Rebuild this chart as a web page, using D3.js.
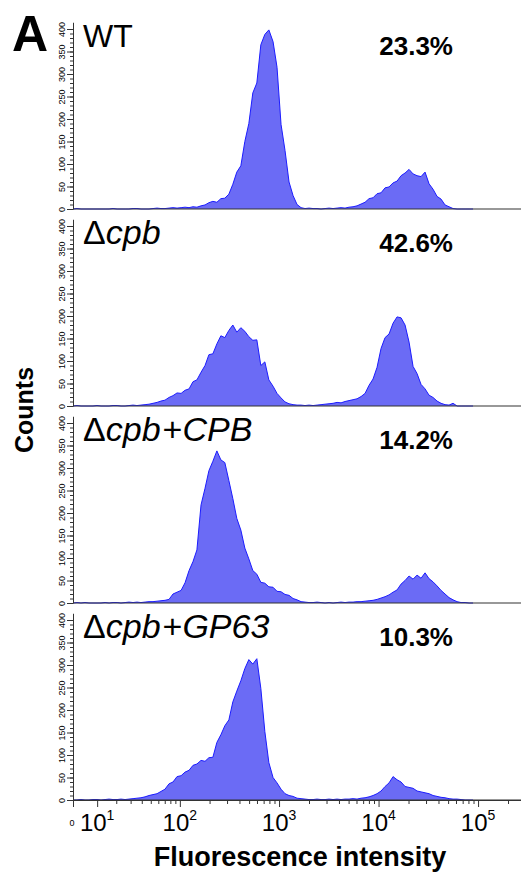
<!DOCTYPE html>
<html>
<head>
<meta charset="utf-8">
<title>Flow cytometry histograms</title>
<script src="https://d3js.org/d3.v7.min.js"></script>
<style>
  body { margin: 0; background: #fff; }
  svg text { font-family: "Liberation Sans", Arial, sans-serif; fill: #000; }
</style>
</head>
<body>
<script>
// bin centres, fluorescence intensity
var bins = [
  1.57, 3.16, 4.78, 6.44, 8.15, 9.93, 11.8, 13.8, 15.9, 18.1,
  20.5, 23.0, 25.8, 28.7, 32.0, 35.4, 39.2, 43.4, 47.9, 52.8,
  58.2, 64.0, 70.4, 77.5, 85.1, 93.6, 103, 113, 124, 136,
  149, 164, 180, 197, 216, 237, 260, 285, 313, 343,
  376, 413, 453, 497, 545, 598, 656, 720, 790, 870,
  954, 1047, 1148, 1260, 1382, 1516, 1663, 1824, 2001, 2196,
  2408, 2642, 2898, 3179, 3487, 3826, 4197, 4604, 5051, 5540,
  6078, 6668, 7315, 8024, 8802, 9656, 10593, 11620, 12747, 13982,
  15340, 16828, 18460, 20251, 22215, 24370, 26734, 29327, 32172, 35275,
  38696, 42449, 46567, 51084, 56039, 61475, 67438, 73979, 81155, 89027
];

// counts per bin
var wt = [
  1, 0, 0, 0, 0, 0, 0, 0, 0, 1,
  0, 0, 0, 0, 1, 1, 0, 0, 0, 1,
  2, 1, 1, 2, 3, 2, 3, 4, 3, 5,
  4, 7, 9, 14, 17, 15, 23, 24, 33, 55,
  82, 96, 150, 190, 258, 280, 365, 388, 398, 372,
  315, 188, 130, 60, 30, 10, 3, 1, 2, 1,
  1, 0, 1, 2, 1, 2, 3, 2, 4, 5,
  7, 11, 15, 23, 25, 34, 36, 47, 49, 58,
  62, 74, 80, 88, 78, 74, 72, 82, 56, 44,
  28, 22, 9, 5, 1, 0, 0, 0, 0, 0
];
var cpb = [
  1, 0, 0, 0, 0, 1, 0, 0, 0, 1,
  1, 0, 0, 1, 2, 1, 2, 3, 4, 6,
  8, 11, 13, 19, 23, 29, 28, 35, 38, 54,
  58, 75, 90, 114, 116, 138, 156, 152, 168, 180,
  164, 174, 166, 154, 146, 147, 90, 98, 58, 44,
  28, 18, 9, 5, 3, 2, 2, 1, 2, 1,
  2, 3, 4, 5, 6, 8, 7, 10, 12, 14,
  16, 21, 28, 46, 60, 86, 128, 152, 160, 184,
  198, 196, 180, 142, 88, 72, 48, 38, 24, 19,
  11, 6, 3, 2, 6, 0, 0, 0, 0, 0
];
var cpbCPB = [
  1, 0, 1, 0, 0, 0, 0, 1, 0, 1,
  1, 0, 1, 2, 1, 2, 1, 2, 3, 3,
  4, 5, 6, 8, 20, 24, 28, 45, 72, 92,
  118, 218, 255, 294, 315, 338, 318, 312, 272, 232,
  188, 162, 122, 98, 72, 64, 46, 44, 36, 35,
  26, 25, 19, 17, 10, 7, 3, 2, 1, 1,
  2, 1, 0, 1, 0, 1, 2, 1, 2, 2,
  3, 3, 4, 5, 6, 8, 11, 14, 18, 24,
  29, 42, 50, 60, 53, 62, 55, 67, 54, 47,
  38, 28, 20, 12, 7, 3, 1, 1, 0, 0
];
var cpbGP63 = [
  0, 1, 0, 0, 1, 1, 0, 1, 2, 1,
  1, 2, 1, 2, 3, 4, 5, 7, 10, 12,
  14, 19, 24, 36, 40, 52, 54, 62, 66, 77,
  80, 88, 86, 94, 95, 128, 145, 165, 178, 218,
  242, 265, 292, 312, 302, 314, 248, 152, 83, 50,
  38, 24, 14, 10, 8, 4, 3, 2, 1, 1,
  2, 1, 1, 2, 1, 2, 1, 2, 2, 3,
  2, 4, 5, 7, 10, 14, 20, 30, 38, 52,
  45, 40, 30, 28, 26, 20, 18, 16, 14, 10,
  8, 6, 5, 3, 2, 2, 1, 0, 0, 0
];

var panelNames = ["WT", "\u0394cpb", "\u0394cpb+CPB", "\u0394cpb+GP63"];
var percents = ["23.3%", "42.6%", "14.2%", "10.3%"];
var countTicks = [0, 50, 100, 150, 200, 250, 300, 350, 400];
var decadeTicks = [10, 100, 1000, 10000, 100000];
var decadeExp = ["1", "2", "3", "4", "5"];

var series = [wt, cpb, cpbCPB, cpbGP63];

var width = 521, height = 873;
var left = 73;
var panelStep = 197;
var firstBase = 209;
var pxPerCount = 0.45;
var cof = 17; // biexponential cofactor

var svg = d3.select("body").append("svg")
  .attr("width", width)
  .attr("height", height);

// biexponential (arcsinh) x axis
var xl = d3.scaleLinear()
  .domain([0, Math.asinh(270000 / cof)])
  .range([left, width]);
function xs(v) { return xl(Math.asinh(v / cof)); }

var area = d3.area()
  .x(function(d) { return xs(d[0]); })
  .y0(function(d) { return d[2](0); })
  .y1(function(d) { return d[2](d[1]); });

var line = d3.line()
  .x(function(d) { return xs(d[0]); })
  .y(function(d) { return d[2](d[1]); });

series.forEach(function(counts, i) {
  var base = firstBase + i * panelStep;
  var y = d3.scaleLinear()
    .domain([0, 415])
    .range([base, base - 415 * pxPerCount]);

  var pts = [[0, 0, y]].concat(bins.map(function(b, j) { return [b, counts[j], y]; }));

  var g = svg.append("g");

  g.append("path")
    .datum(pts)
    .attr("d", area)
    .attr("fill", "#6b6bf5");

  g.append("path")
    .datum(pts)
    .attr("d", line)
    .attr("fill", "none")
    .attr("stroke", "#1c1cff")
    .attr("stroke-width", 1);

  // baseline across the panel
  g.append("line")
    .attr("x1", left).attr("x2", width)
    .attr("y1", base).attr("y2", base)
    .attr("stroke", "#333")
    .attr("stroke-width", 1.2);

  // y axis minor ticks
  g.append("g")
    .attr("transform", "translate(" + left + ",0)")
    .call(d3.axisLeft(y).tickValues(d3.range(0, 410, 10)).tickSize(3).tickSizeOuter(0).tickFormat(""))
    .call(function(a) {
      a.select(".domain").attr("stroke", "#333");
      a.selectAll(".tick line").attr("stroke", "#333");
    });

  // y axis major ticks with rotated labels
  g.append("g")
    .attr("transform", "translate(" + left + ",0)")
    .call(d3.axisLeft(y).tickValues(countTicks).tickSize(6).tickSizeOuter(0))
    .call(function(a) {
      a.select(".domain").remove();
      a.selectAll(".tick line").attr("stroke", "#333");
      a.selectAll(".tick text")
        .attr("transform", "rotate(-90)")
        .attr("x", 0)
        .attr("y", -8)
        .attr("dy", "0")
        .attr("text-anchor", "middle")
        .attr("font-size", 9)
        .attr("fill", "#333");
    });

  // sample name
  var name = g.append("text")
    .attr("x", 83)
    .attr("y", base - 162)
    .attr("font-size", i === 0 ? 32 : 34);
  panelNames[i].split(/(\u0394|\+)/).filter(function(s) { return s; }).forEach(function(s) {
    var ts = name.append("tspan")
      .style("font-style", (s === "\u0394" || s === "+" || s === "WT") ? "normal" : "italic")
      .text(s);
    if (s === "+") ts.attr("dx", 2);
  });

  g.append("text")
    .attr("x", 453)
    .attr("y", base - 154)
    .attr("text-anchor", "end")
    .attr("font-size", 26)
    .attr("font-weight", "bold")
    .text(percents[i]);
});

// bottom x axis
var bottom = firstBase + 3 * panelStep;
var minor = [];
decadeTicks.forEach(function(d) {
  d3.range(2, 10).forEach(function(m) { if (m * d < 270000) minor.push(m * d); });
});

svg.append("g")
  .attr("transform", "translate(0," + bottom + ")")
  .call(d3.axisBottom(xl).tickValues(minor.map(function(v) { return Math.asinh(v / cof); })).tickSize(4).tickSizeOuter(0).tickFormat(""))
  .call(function(a) {
    a.select(".domain").attr("stroke", "#333").attr("stroke-width", 1.2);
    a.selectAll(".tick line").attr("stroke", "#333");
  });

svg.append("g")
  .attr("transform", "translate(0," + bottom + ")")
  .call(d3.axisBottom(xl).tickValues([0].concat(decadeTicks).map(function(v) { return Math.asinh(v / cof); })).tickSize(7).tickSizeOuter(0).tickFormat(""))
  .call(function(a) {
    a.select(".domain").remove();
    a.selectAll(".tick line").attr("stroke", "#333");
  });

decadeTicks.forEach(function(d, i) {
  var t = svg.append("text")
    .attr("x", xs(d))
    .attr("y", bottom + 31)
    .attr("text-anchor", "middle")
    .attr("font-size", 24);
  t.append("tspan").text("10");
  t.append("tspan").attr("font-size", 14).attr("dy", -11).text(decadeExp[i]);
});

svg.append("text")
  .attr("x", xs(0) - 1)
  .attr("y", bottom + 26)
  .attr("text-anchor", "middle")
  .attr("font-size", 9)
  .text("0");

svg.append("text")
  .attr("x", 300)
  .attr("y", bottom + 66)
  .attr("text-anchor", "middle")
  .attr("font-size", 27)
  .attr("font-weight", "bold")
  .text("Fluorescence intensity");

svg.append("text")
  .attr("transform", "translate(33,410) rotate(-90)")
  .attr("text-anchor", "middle")
  .attr("font-size", 25)
  .attr("font-weight", "bold")
  .text("Counts");

svg.append("text")
  .attr("x", 12)
  .attr("y", 51)
  .attr("font-size", 50)
  .attr("font-weight", "bold")
  .text("A");
</script>
</body>
</html>
